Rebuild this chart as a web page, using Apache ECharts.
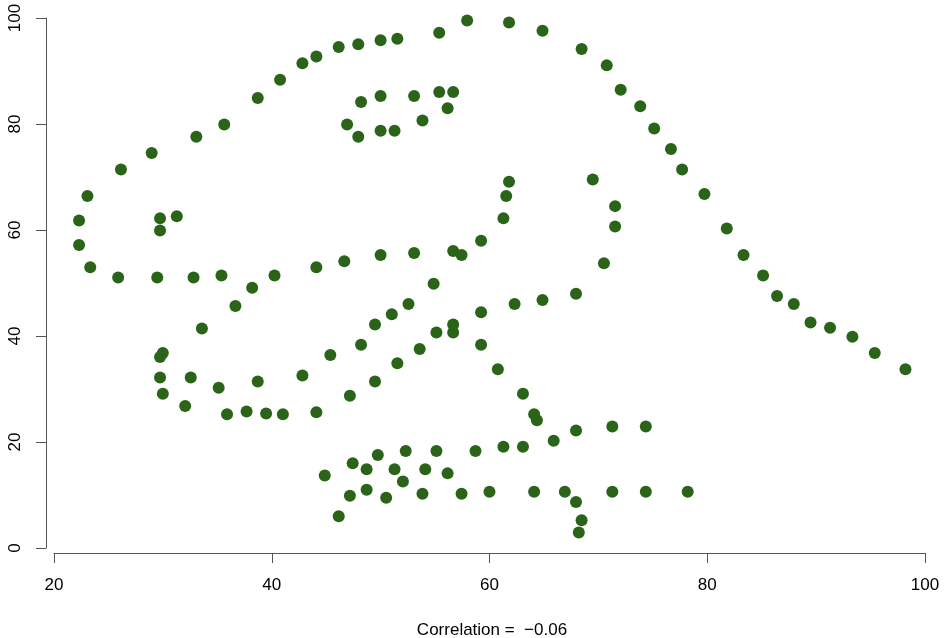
<!DOCTYPE html>
<html><head><meta charset="utf-8">
<script src="https://cdn.jsdelivr.net/npm/echarts@6/dist/echarts.min.js"></script>
<style>html,body{margin:0;padding:0;background:#fff}#c{width:945px;height:638px}</style>
</head><body><div id="c"></div>
<script>
const xValues = [55.3846,51.5385,46.1538,42.8205,40.7692,38.7179,35.641,33.0769,28.9744,26.1538,23.0769,22.3077,22.3077,23.3333,25.8974,29.4872,32.8205,35.3846,40.2564,44.1026,46.6667,50,53.0769,56.6667,59.2308,61.2821,61.5385,61.7949,57.4359,54.8718,52.5641,48.2051,49.4872,51.0256,45.3846,42.8205,38.7179,35.1282,32.5641,30,33.5897,36.6667,38.2051,29.7436,29.7436,30,32.0513,35.8974,41.0256,44.1026,47.1795,49.4872,51.5385,53.5897,55.1282,56.6667,59.2308,62.3077,64.8718,67.9487,70.5128,71.5385,71.5385,69.4872,46.9231,48.2051,50,53.0769,55.3846,56.6667,56.1538,53.8462,51.2821,50,47.9487,29.7436,29.7436,31.2821,57.9487,61.7949,64.8718,68.4615,70.7692,72.0513,73.8462,75.1282,76.6667,77.6923,79.7436,81.7949,83.3333,85.1282,86.4103,87.9487,89.4872,93.3333,95.3846,98.2051,56.6667,59.2308,60.7692,63.0769,64.1026,64.359,74.359,71.2821,67.9487,65.8974,63.0769,61.2821,58.7179,55.1282,52.3077,49.7436,47.4359,44.8718,48.7179,51.2821,54.1026,56.1538,52.0513,48.7179,47.1795,46.1538,50.5128,53.8462,57.4359,60,64.1026,66.9231,71.2821,74.359,78.2051,67.9487,68.4615,68.2051,37.6923,39.4872,91.2821,50,47.9487,44.1026];
const yValues = [97.1795,96.0256,94.4872,91.4103,88.3333,84.8718,79.8718,77.5641,74.4872,71.4103,66.4103,61.7949,57.1795,52.9487,51.0256,51.0256,51.0256,51.4103,51.4103,52.9487,54.1026,55.2564,55.641,56.0256,57.9487,62.1795,66.4103,69.1026,55.2564,49.8718,46.0256,38.3333,42.1795,44.1026,36.4103,32.5641,31.4103,30.2564,32.1795,36.7949,41.4103,45.641,49.1026,36.0256,32.1795,29.1026,26.7949,25.2564,25.2564,25.641,28.718,31.4103,34.8718,37.5641,40.641,42.1795,44.4872,46.0256,46.7949,47.9487,53.718,60.641,64.4872,69.4872,79.8718,84.1026,85.2564,85.2564,86.0256,86.0256,82.9487,80.641,78.718,78.718,77.5641,59.8718,62.1795,62.5641,99.4872,99.1026,97.5641,94.1026,91.0256,86.4103,83.3333,79.1026,75.2564,71.4103,66.7949,60.2564,55.2564,51.4103,47.5641,46.0256,42.5641,39.8718,36.7949,33.718,40.641,38.3333,33.718,29.1026,25.2564,24.1026,22.9487,22.9487,22.1795,20.2564,19.1026,19.1026,18.3333,18.3333,18.3333,17.5641,16.0256,13.7179,14.8718,14.8718,14.8718,14.1026,12.5641,11.0256,9.8718,6.0256,9.4872,10.2564,10.2564,10.641,10.641,10.641,10.641,10.641,10.641,8.718,5.2564,2.9487,25.7692,25.3846,41.5385,95.7692,95,92.6923];
const xTicks = [20, 40, 60, 80, 100];
const yTicks = [0, 20, 40, 60, 80, 100];
const titleText = 'Correlation =  \u22120.06';

const points = xValues.map((x, i) => [x, yValues[i]]);
const font = 'Liberation Sans, Arial, Helvetica, sans-serif';
const axisColor = '#555';

const chart = echarts.init(document.getElementById('c'));
chart.setOption({
  animation: false,
  backgroundColor: '#fff',
  title: {
    text: titleText, left: 487, top: 617, textAlign: 'center',
    textStyle: { fontFamily: font, fontSize: 17, fontWeight: 'normal', color: '#000' }
  },
  grid: [
    { left: 46, right: 6.5, top: 0, bottom: 85 },
    { left: 54, right: 20, top: 18, bottom: 85 },
    { left: 46, right: 20, top: 18, bottom: 90 }
  ],
  xAxis: [
    { gridIndex: 0, type: 'value', min: 19.27, max: 101.24, show: false },
    { gridIndex: 1, type: 'value', min: xTicks[0], max: xTicks[xTicks.length - 1], interval: 20,
      axisLine: { show: true, lineStyle: { color: axisColor, width: 1 } },
      axisTick: { show: true, length: 10, lineStyle: { color: axisColor } },
      splitLine: { show: false },
      axisLabel: { margin: 24, fontFamily: font, fontSize: 17, color: '#000',
        formatter: v => xTicks.includes(v) ? String(v) : '' } },
    { gridIndex: 2, type: 'value', show: false }
  ],
  yAxis: [
    { gridIndex: 0, type: 'value', min: -0.91, max: 103.35, show: false },
    { gridIndex: 1, type: 'value', show: false },
    { gridIndex: 2, type: 'value', min: yTicks[0], max: yTicks[yTicks.length - 1], interval: 20,
      axisLine: { show: true, lineStyle: { color: axisColor, width: 1 } },
      axisTick: { show: true, length: 10, lineStyle: { color: axisColor } },
      splitLine: { show: false },
      axisLabel: { margin: 22, rotate: 90, fontFamily: font, fontSize: 17, color: '#000',
        formatter: v => yTicks.includes(v) ? String(v) : '' } }
  ],
  series: [{
    type: 'scatter', xAxisIndex: 0, yAxisIndex: 0, data: points,
    symbol: 'circle', symbolSize: 12,
    itemStyle: { color: '#2a6418', opacity: 1 }
  }]
});
</script></body></html>
